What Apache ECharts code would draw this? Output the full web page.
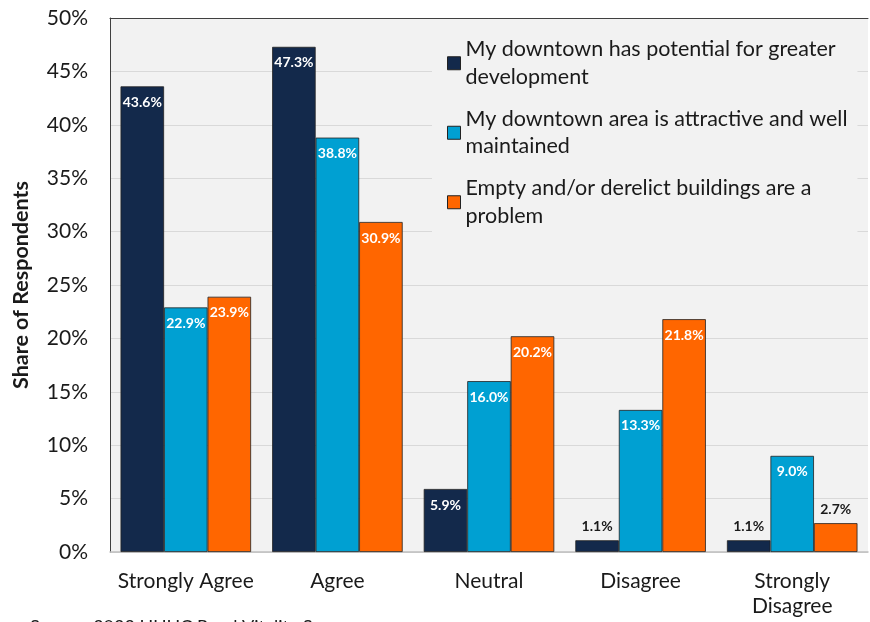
<!DOCTYPE html>
<html>
<head>
<meta charset="utf-8">
<script src="https://cdn.jsdelivr.net/npm/echarts@6/dist/echarts.min.js"></script>
<style>html,body{margin:0;padding:0;background:#fff;}#c{width:870px;height:622px;}</style>
</head>
<body>
<div id="c"></div>
<script>
const categories = ['Strongly Agree', 'Agree', 'Neutral', 'Disagree', 'Strongly Disagree'];
const seriesNames = [
  'My downtown has potential for greater development',
  'My downtown area is attractive and well maintained',
  'Empty and/or derelict buildings are a problem'
];
const legendLines = [
  'My downtown has potential for greater\ndevelopment',
  'My downtown area is attractive and well\nmaintained',
  'Empty and/or derelict buildings are a\nproblem'
];
const potential = [43.6, 47.3, 5.9, 1.1, 1.1];
const attractive = [22.9, 38.8, 16.0, 13.3, 9.0];
const derelict = [23.9, 30.9, 20.2, 21.8, 2.7];
const colors = ['#13294B', '#00A0D2', '#FF6600'];
const yTicks = [0, 5, 10, 15, 20, 25, 30, 35, 40, 45, 50];
const sourceText = 'Source: 2022 HUHC Rural Vitality Survey';

const FONT = 'Lato, "Open Sans", sans-serif';
const chart = echarts.init(document.getElementById('c'), null, {renderer: 'canvas'});

function mkData(arr) {
  return arr.map(v => {
    if (v < 3) {
      return {value: v, label: {position: 'top', color: '#1a1a1a', distance: 7}};
    }
    return {value: v};
  });
}

const allSeries = [potential, attractive, derelict].map((arr, i) => ({
  name: seriesNames[i],
  type: 'bar',
  data: mkData(arr),
  barWidth: '28.7%',
  barGap: '0%',
  itemStyle: {color: colors[i], borderColor: '#222', borderWidth: 0.8},
  label: {
    show: true,
    position: 'insideTop',
    distance: 9,
    color: '#ffffff',
    fontFamily: FONT,
    fontWeight: 'bold',
    fontSize: 14,
    formatter: p => p.value.toFixed(1) + '%'
  },
  emphasis: {disabled: true},
  xAxisIndex: 0
}));

chart.setOption({
  backgroundColor: '#ffffff',
  animation: false,
  textStyle: {fontFamily: FONT},
  grid: {
    left: 110, right: 2, top: 18, bottom: 70,
    containLabel: false,
    outerBoundsMode: 'none',
    show: true, backgroundColor: '#F2F2F2', borderWidth: 0
  },
  legend: {
    orient: 'vertical',
    left: 432,
    top: 22,
    padding: [0, 10, 6, 15],
    backgroundColor: '#F2F2F2',
    itemWidth: 13,
    itemHeight: 13,
    itemGap: -13,
    icon: 'rect',
    selectedMode: false,
    data: seriesNames.map((n, i) => ({name: n, itemStyle: {borderColor: '#222', borderWidth: 1}})),
    formatter: name => legendLines[seriesNames.indexOf(name)],
    textStyle: {
      fontFamily: FONT,
      fontSize: 21.5,
      lineHeight: 27.5,
      color: '#1a1a1a',
      padding: [27.5, 0, 0, 0]
    }
  },
  xAxis: [{
    type: 'category',
    data: categories,
    axisLine: {show: true, lineStyle: {color: '#BFBFBF', width: 1.5}},
    axisTick: {show: false},
    axisLabel: {
      interval: 0,
      color: '#1a1a1a',
      fontFamily: FONT,
      fontSize: 21,
      lineHeight: 25,
      margin: 17,
      formatter: v => v === 'Strongly Disagree' ? 'Strongly\nDisagree' : v
    }
  }, {
    type: 'category',
    position: 'top',
    data: categories,
    axisLine: {show: true, lineStyle: {color: '#404040', width: 1}},
    axisTick: {show: false},
    axisLabel: {show: false}
  }],
  yAxis: {
    type: 'value',
    min: 0,
    max: 50,
    interval: 5,
    name: 'Share of Respondents',
    nameLocation: 'middle',
    nameGap: 78,
    nameTextStyle: {fontFamily: FONT, fontSize: 21.5, fontWeight: 'bold', color: '#1a1a1a'},
    axisLine: {show: true, lineStyle: {color: '#404040', width: 1}},
    axisTick: {show: false},
    splitLine: {show: true, lineStyle: {color: '#D9D9D9', width: 1}},
    axisLabel: {
      color: '#1a1a1a',
      fontFamily: FONT,
      fontSize: 21,
      margin: 22,
      formatter: v => v + '%'
    }
  },
  series: allSeries,
  graphic: [{
    type: 'text',
    left: 30,
    top: 618,
    style: {text: sourceText, font: '18px ' + FONT, fill: '#1a1a1a'}
  }]
});
</script>
</body>
</html>
